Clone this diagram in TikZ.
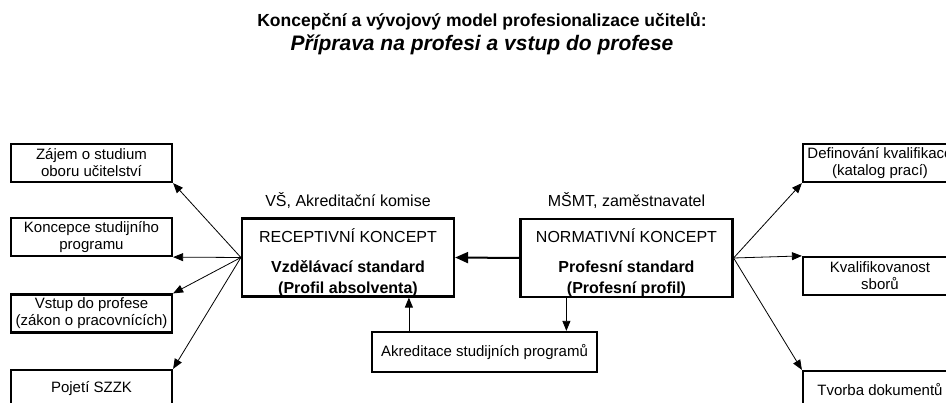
\documentclass[tikz,border=0pt]{standalone}
\usepackage{fontspec}
\setmainfont{Liberation Sans}
\usetikzlibrary{arrows.meta,positioning}
\tikzset{>={Triangle[length=10pt,width=8pt]}}

\begin{document}
\begin{tikzpicture}[x=1pt,y=-1pt,
  sidebox/.style={draw,line width=2.2pt,minimum width=161pt,minimum height=38pt,
    inner sep=0pt,align=center,font=\fontsize{15}{17}\selectfont},
  rightbox/.style={sidebox,minimum width=154pt},
  conceptbox/.style={draw,line width=2.2pt,minimum width=212pt,minimum height=78pt},
  concepttext/.style={align=center,inner sep=0pt,font=\fontsize{16}{21}\selectfont},
  fan/.style={->,line width=0.8pt}]
\useasboundingbox (0,0) rectangle (946,403);
\clip (0,0) rectangle (946,403);

% title
\node[font=\bfseries\fontsize{17.5}{20}\selectfont] (title) at (482,21)
  {Koncepční a vývojový model profesionalizace učitelů:};
\node[font=\bfseries\itshape\fontsize{21}{24}\selectfont] (subtitle) at (482,45)
  {Příprava na profesi a vstup do profese};

% left column
\node[sidebox] (zajem) at (91.5,163) {Zájem o studium\\oboru učitelství};
\node[sidebox] (koncepce) at (91.5,237) {Koncepce studijního\\programu};
\node[sidebox] (vstup) at (91.5,313.5) {Vstup do profese\\(zákon o pracovnících)};
\node[sidebox] (pojeti) at (91.5,389) {Pojetí SZZK};

% right column
\node[rightbox] (definovani) at (880,163) {Definování kvalifikace\\(katalog prací)};
\node[rightbox] (kvalif) at (880,276) {Kvalifikovanost\\sborů};
\node[rightbox] (tvorba) at (880,390) {Tvorba dokumentů};

% the two concepts
\node[conceptbox] (recept) at (348,257.5) {};
\node[concepttext] (recepttext) at ([yshift=-5pt]recept.center)
  {RECEPTIVNÍ KONCEPT\\[9pt]\textbf{Vzdělávací standard}\\\textbf{(Profil absolventa)}};
\node[conceptbox] (norm) at (626.5,258) {};
\node[concepttext] (normtext) at ([yshift=-5pt]norm.center)
  {NORMATIVNÍ KONCEPT\\[9pt]\textbf{Profesní standard}\\\textbf{(Profesní profil)}};
\node[inner sep=0pt,font=\fontsize{16}{18}\selectfont,above=9pt of recept] (vs)
  {VŠ, Akreditační komise};
\node[inner sep=0pt,font=\fontsize{16}{18}\selectfont,above=9pt of norm] (msmt)
  {MŠMT, zaměstnavatel};

\node[draw,line width=2.2pt,minimum width=225pt,minimum height=40pt,
  font=\fontsize{15}{17}\selectfont] (akred) at (484.5,352)
  {Akreditace studijních programů};

% connectors
\draw[fan] (recept.west) -- (zajem.south east);
\draw[fan] (recept.west) -- (koncepce.south east);
\draw[fan] (recept.west) -- (vstup.north east);
\draw[fan] (recept.west) -- (pojeti.north east);
\draw[fan] (norm.east) -- (definovani.south west);
\draw[fan] (norm.east) -- (kvalif.north west);
\draw[fan] (norm.east) -- (tvorba.north west);
\draw[->,line width=2pt,>={Triangle[length=13pt,width=11pt]}] (norm.west) -- (recept.east);
\coordinate (akredup) at ([xshift=38pt]akred.north west);
\coordinate (normdown) at ([xshift=47pt]norm.south west);
\draw[fan] (akredup) -- (akredup |- recept.south);
\draw[fan] (normdown) -- (normdown |- akred.north);
\end{tikzpicture}
\end{document}
